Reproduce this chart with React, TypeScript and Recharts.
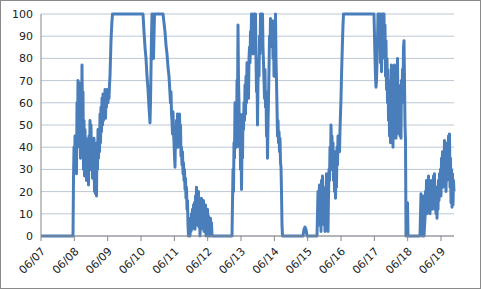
import React from "react";
import { LineChart, Line, XAxis, YAxis, CartesianGrid } from "recharts";

// Time is in days since 06/07 00:00; value in %.
const tickLabels = ["06/07", "06/08", "06/09", "06/10", "06/11", "06/12", "06/13", "06/14", "06/15", "06/16", "06/17", "06/18", "06/19"];
const yTicks = [0, 10, 20, 30, 40, 50, 60, 70, 80, 90, 100];

const cycle1: [number, number][] = [
  [0, 0], [0.96, 0], [0.975, 26], [0.99, 40], [1.005, 30], [1.02, 45], [1.035, 35], [1.05, 44], [1.065, 28],
  [1.08, 60], [1.095, 45], [1.11, 70], [1.125, 52], [1.14, 69], [1.155, 40], [1.17, 62], [1.185, 35], [1.2, 55],
  [1.215, 45], [1.23, 77], [1.245, 50], [1.26, 65], [1.275, 30], [1.29, 52], [1.305, 27], [1.32, 48], [1.335, 35],
  [1.35, 44], [1.365, 25], [1.38, 40], [1.395, 27], [1.41, 38], [1.425, 23], [1.44, 45], [1.455, 30], [1.47, 52],
  [1.485, 40], [1.5, 50], [1.515, 30], [1.53, 44], [1.545, 26], [1.56, 42], [1.575, 32], [1.59, 44], [1.605, 20],
  [1.62, 38], [1.635, 19], [1.65, 35], [1.665, 18], [1.68, 42], [1.695, 30], [1.71, 48], [1.725, 35], [1.74, 44],
  [1.755, 38], [1.77, 55], [1.785, 42], [1.8, 58], [1.815, 47], [1.83, 62], [1.845, 50], [1.86, 64], [1.875, 52],
  [1.89, 60], [1.905, 55], [1.92, 66], [1.935, 53], [1.95, 62], [1.965, 58], [1.98, 66], [1.995, 60], [2.01, 60],
  [2.025, 66], [2.04, 62], [2.055, 68], [2.07, 72], [2.085, 80], [2.1, 88], [2.115, 93], [2.13, 97], [2.145, 100],
  [3.06, 100], [3.09, 92], [3.12, 85], [3.15, 80], [3.18, 72], [3.21, 66], [3.24, 58], [3.27, 51], [3.285, 60],
  [3.3, 75], [3.315, 90], [3.33, 100], [3.345, 100], [3.36, 88], [3.375, 80], [3.39, 90], [3.405, 100], [3.66, 100],
  [3.69, 96], [3.72, 92], [3.75, 86], [3.78, 82], [3.81, 76], [3.84, 72], [3.87, 64], [3.885, 60], [3.9, 65],
  [3.915, 55], [3.93, 52], [3.945, 46], [3.96, 56], [3.975, 47], [3.99, 42], [4.005, 36], [4.02, 31], [4.035, 45],
  [4.05, 40], [4.065, 52], [4.08, 44], [4.095, 55], [4.11, 40], [4.125, 50], [4.14, 42], [4.155, 55], [4.17, 44],
  [4.185, 50], [4.2, 36], [4.215, 40], [4.23, 32], [4.245, 38], [4.26, 28], [4.275, 33], [4.29, 25], [4.305, 30],
  [4.32, 21], [4.335, 26], [4.35, 17], [4.365, 22], [4.38, 12], [4.395, 16], [4.41, 5], [4.425, 0],
];

const lull1: [number, number][] = [
  [4.44, 0], [4.455, 6], [4.47, 0], [4.485, 8], [4.5, 2], [4.515, 10], [4.53, 3], [4.545, 12], [4.56, 4],
  [4.575, 14], [4.59, 6], [4.605, 15], [4.62, 3], [4.635, 18], [4.65, 8], [4.665, 22], [4.68, 5], [4.695, 16],
  [4.71, 10], [4.725, 20], [4.74, 4], [4.755, 13], [4.77, 0], [4.785, 10], [4.8, 3], [4.815, 17], [4.83, 6],
  [4.845, 14], [4.86, 8], [4.875, 16], [4.89, 2], [4.905, 12], [4.92, 5], [4.935, 14], [4.95, 0], [4.965, 10],
  [4.98, 3], [4.995, 12], [5.01, 4], [5.025, 9], [5.04, 0], [5.055, 5], [5.07, 0], [5.085, 8], [5.1, 2],
  [5.115, 6], [5.13, 0], [5.73, 0],
];

const cycle2: [number, number][] = [
  [5.745, 15], [5.76, 30], [5.775, 20], [5.79, 42], [5.805, 35], [5.82, 60], [5.835, 45], [5.85, 55], [5.865, 40],
  [5.88, 70], [5.895, 60], [5.91, 95], [5.925, 70], [5.94, 60], [5.955, 40], [5.97, 55], [5.985, 30], [6.0, 45],
  [6.015, 21], [6.03, 40], [6.045, 35], [6.06, 55], [6.075, 48], [6.09, 60], [6.105, 52], [6.12, 68], [6.135, 55],
  [6.15, 72], [6.165, 60], [6.18, 78], [6.195, 65], [6.21, 72], [6.225, 62], [6.24, 80], [6.255, 85], [6.27, 78],
  [6.285, 92], [6.3, 85], [6.315, 100], [6.33, 88], [6.345, 100], [6.36, 82], [6.375, 95], [6.39, 85], [6.405, 100],
  [6.42, 90], [6.435, 100], [6.45, 80], [6.465, 65], [6.48, 75], [6.495, 50], [6.51, 70], [6.525, 80], [6.54, 72],
  [6.555, 90], [6.57, 82], [6.585, 100], [6.6, 88], [6.615, 100], [6.63, 95], [6.645, 100], [6.66, 85], [6.675, 78],
  [6.69, 70], [6.705, 62], [6.72, 75], [6.735, 58], [6.75, 65], [6.765, 45], [6.78, 55], [6.795, 35], [6.81, 50],
  [6.825, 62], [6.84, 75], [6.855, 90], [6.87, 85], [6.885, 98], [6.9, 90], [6.915, 96], [6.93, 88], [6.945, 97],
  [6.96, 80], [6.975, 92], [6.99, 72], [7.005, 95], [7.02, 85], [7.035, 100], [7.05, 80], [7.065, 70], [7.08, 58],
  [7.095, 45], [7.11, 52], [7.125, 42], [7.14, 47], [7.155, 38], [7.17, 44], [7.185, 33], [7.2, 31], [7.215, 20],
  [7.23, 5], [7.245, 0],
];

const lull2: [number, number][] = [
  [7.86, 0], [7.89, 3], [7.92, 4], [7.95, 3], [7.98, 0], [8.28, 0],
];

const cycle3: [number, number][] = [
  [8.295, 10], [8.31, 20], [8.325, 5], [8.34, 18], [8.355, 23], [8.37, 8], [8.385, 20], [8.4, 2], [8.415, 25],
  [8.43, 12], [8.445, 27], [8.46, 15], [8.475, 22], [8.49, 5], [8.505, 18], [8.52, 2], [8.535, 20], [8.55, 10],
  [8.565, 28], [8.58, 15], [8.595, 25], [8.61, 2], [8.625, 18], [8.64, 30], [8.655, 25], [8.67, 40], [8.685, 30],
  [8.7, 50], [8.715, 38], [8.73, 45], [8.745, 30], [8.76, 42], [8.775, 25], [8.79, 35], [8.805, 20], [8.82, 38],
  [8.835, 17], [8.85, 30], [8.865, 22], [8.88, 40], [8.895, 32], [8.91, 45], [8.925, 40], [8.94, 45], [8.955, 38],
  [8.97, 48], [8.985, 55], [9.0, 62], [9.015, 72], [9.03, 80], [9.045, 88], [9.06, 95], [9.075, 100], [9.99, 100],
  [10.005, 90], [10.02, 80], [10.035, 72], [10.05, 67], [10.065, 70], [10.08, 78], [10.095, 88], [10.11, 100],
  [10.125, 95], [10.14, 100], [10.155, 88], [10.17, 100], [10.185, 78], [10.2, 95], [10.215, 74], [10.23, 100],
  [10.245, 85], [10.26, 100], [10.275, 90], [10.29, 100], [10.305, 80], [10.32, 95], [10.335, 72], [10.35, 88],
  [10.365, 66], [10.38, 80], [10.395, 60], [10.41, 75], [10.425, 52], [10.44, 70], [10.455, 45], [10.47, 65],
  [10.485, 42], [10.5, 58], [10.515, 77], [10.53, 48], [10.545, 72], [10.56, 40], [10.575, 68], [10.59, 44],
  [10.605, 77], [10.62, 50], [10.635, 72], [10.65, 44], [10.665, 65], [10.68, 46], [10.695, 80], [10.71, 55],
  [10.725, 68], [10.74, 48], [10.755, 60], [10.77, 45], [10.785, 62], [10.8, 44], [10.815, 70], [10.83, 60],
  [10.845, 75], [10.86, 62], [10.875, 85], [10.89, 88], [10.905, 70], [10.92, 50], [10.935, 43], [10.95, 0],
  [10.965, 0], [10.995, 15], [11.01, 0], [11.37, 0],
];

const tail: [number, number][] = [
  [11.385, 10], [11.4, 19], [11.415, 5], [11.43, 15], [11.445, 0], [11.46, 18], [11.475, 2], [11.49, 0],
  [11.52, 8], [11.535, 20], [11.55, 12], [11.565, 25], [11.58, 10], [11.595, 22], [11.61, 18], [11.625, 27],
  [11.64, 14], [11.655, 24], [11.67, 10], [11.685, 20], [11.7, 16], [11.715, 25], [11.73, 12], [11.745, 22],
  [11.76, 14], [11.775, 27], [11.79, 18], [11.805, 28], [11.82, 12], [11.835, 20], [11.85, 10], [11.865, 22],
  [11.88, 8], [11.895, 18], [11.91, 12], [11.925, 25], [11.94, 16], [11.955, 28], [11.97, 20], [11.985, 30],
  [12.0, 18], [12.015, 35], [12.03, 25], [12.045, 38], [12.06, 22], [12.075, 32], [12.09, 28], [12.105, 43],
  [12.12, 30], [12.135, 40], [12.15, 20], [12.165, 35], [12.18, 25], [12.195, 42], [12.21, 30], [12.225, 45],
  [12.24, 28], [12.255, 46], [12.27, 22], [12.285, 35], [12.3, 15], [12.315, 30], [12.33, 13], [12.345, 28],
  [12.36, 14], [12.375, 25], [12.39, 20],
];

const lastDay = 12.39;

const data = [...cycle1, ...lull1, ...cycle2, ...lull2, ...cycle3, ...tail].map(([d, v]) => ({ d, v }));
const xTicks = tickLabels.map((_, i) => i);

const FONT = "'DejaVu Sans', Verdana, sans-serif";

const XTick = (props: any) => {
  const { x, y, payload } = props;
  return (
    <g transform={`translate(${x + 5},${y + 9})`}>
      <text textAnchor="end" transform="rotate(-45)" fontSize={11} fill="#222" fontFamily={FONT}>
        {tickLabels[payload.value]}
      </text>
    </g>
  );
};

export default function App() {
  return (
    <div
      style={{
        position: "absolute",
        left: 0,
        top: 0,
        width: 481,
        height: 289,
        boxSizing: "border-box",
        border: "1px solid #8a8a8a",
        background: "#fff",
      }}
    >
      <div style={{ position: "absolute", left: -1, top: -1 }}>
        <LineChart width={481} height={289} data={data} margin={{ top: 14, right: 27, bottom: 0, left: 0 }}>
          <CartesianGrid horizontal vertical={false} stroke="#bcc8d6" strokeWidth={1} />
          <XAxis
            type="number"
            dataKey="d"
            domain={[0, lastDay]}
            ticks={xTicks}
            interval={0}
            height={53}
            tick={<XTick />}
            tickSize={5}
            tickMargin={2}
            axisLine={{ stroke: "#868686" }}
            tickLine={{ stroke: "#868686" }}
            allowDecimals
          />
          <YAxis
            type="number"
            domain={[0, 100]}
            ticks={yTicks}
            interval={0}
            width={41}
            tickSize={5}
            tickMargin={3}
            axisLine={{ stroke: "#868686" }}
            tickLine={false}
            tick={{ fontSize: 11, fill: "#222", fontFamily: FONT }}
          />
          <Line
            type="linear"
            dataKey="v"
            stroke="#4a7ebb"
            strokeWidth={3}
            dot={false}
            isAnimationActive={false}
            strokeLinejoin="round"
          />
        </LineChart>
      </div>
    </div>
  );
}
